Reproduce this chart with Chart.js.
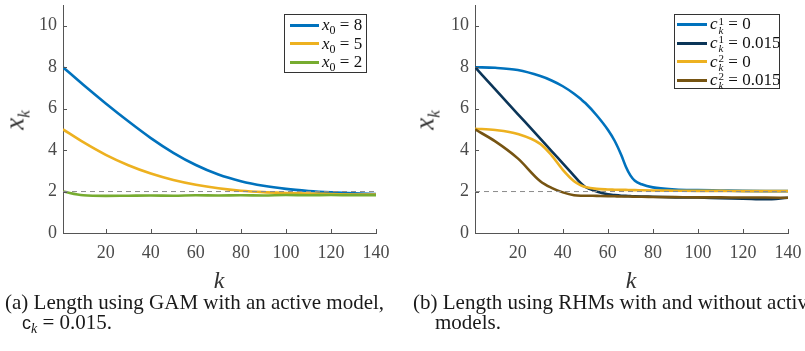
<!DOCTYPE html>
<html>
<head>
<meta charset="utf-8">
<script src="https://cdn.jsdelivr.net/npm/chart.js@4.4.0/dist/chart.umd.min.js"></script>
<style>
  body { margin: 0; width: 805px; height: 351px; overflow: hidden; position: relative; background: #fff; color: #1a1a1a; }
  .serif { font-family: 'Liberation Serif'; }
  .panel { position: absolute; top: 0; height: 290px; }
  .panel canvas { position: absolute; left: 0; top: 0; }
  .ytitle { position: absolute; font-size: 27px; transform: translate(-50%, -50%) rotate(-90deg); white-space: nowrap; color: #333; }
  .xtitle { position: absolute; font-size: 24px; transform: translate(-50%, -50%); font-style: italic; color: #333; }
  .legend { position: absolute; border: 1px solid #333; background: #fff; box-sizing: border-box; font-size: 17px; color: #111; }
  .legend .row { position: absolute; height: 18px; display: flex; align-items: center; white-space: nowrap; }
  .legend .sw { display: inline-block; height: 3px; margin-right: 3px; }
  .m { font-style: italic; }
  .sub { font-size: 12px; position: relative; top: 4px; }
  .ytitle .sub { font-size: 17px; top: 6px; }
  .ss { display: inline-flex; flex-direction: column; font-size: 11px; line-height: 9px; vertical-align: middle; margin-left: 1px; }
  .cap { position: absolute; font-size: 21px; white-space: nowrap; }
</style>
</head>
<body>
<div class="panel" style="left:0;width:400px">
  <canvas id="chartA" width="400" height="290"></canvas>
  <div class="ytitle serif" style="left:15px;top:120px"><span class="m">x</span><span class="sub m">k</span></div>
  <div class="xtitle serif" style="left:219px;top:280px">k</div>
  <div class="legend serif" id="legendA" style="left:284px;top:14px;width:83px;height:59px"></div>
</div>
<div class="panel" style="left:400px;width:405px">
  <canvas id="chartB" width="405" height="290"></canvas>
  <div class="ytitle serif" style="left:25px;top:120px"><span class="m">x</span><span class="sub m">k</span></div>
  <div class="xtitle serif" style="left:231px;top:280px">k</div>
  <div class="legend serif" id="legendB" style="left:274px;top:14px;width:106px;height:75px"></div>
</div>
<div class="cap serif" style="left:5px;top:290px">(a) Length using GAM with an active model,</div>
<div class="cap serif" style="left:22px;top:310px"><span style="font-family:'Liberation Sans';font-size:18px">c</span><span class="sub m" style="font-size:14px">k</span> = 0.015.</div>
<div class="cap serif" style="left:413px;top:290px">(b) Length using RHMs with and without active</div>
<div class="cap serif" style="left:435px;top:310px">models.</div>

<script>
// ---- data ----
const kA = [1, 10, 20, 30, 40, 50, 60, 70, 80, 90, 100, 110, 120, 130, 140];
const x0_8 = [8, 7.15, 6.25, 5.39, 4.58, 3.87, 3.28, 2.82, 2.5, 2.28, 2.13, 2.03, 1.96, 1.91, 1.88];
const x0_5 = [5, 4.38, 3.77, 3.27, 2.87, 2.56, 2.33, 2.16, 2.04, 1.97, 1.93, 1.9, 1.88, 1.86, 1.85];
const x0_2 = [2, 1.82, 1.79, 1.8, 1.81, 1.8, 1.82, 1.81, 1.82, 1.81, 1.83, 1.82, 1.83, 1.82, 1.82];

const kB = [1, 10, 20, 30, 35, 40, 45, 48, 50, 55, 60, 63, 66, 68, 70, 72, 75, 80, 90, 100, 110, 120, 130, 140];
const c1_0   = [8, 7.97, 7.86, 7.57, 7.36, 7.08, 6.72, 6.46, 6.27, 5.68, 4.98, 4.45, 3.75, 3.2, 2.78, 2.52, 2.35, 2.2, 2.1, 2.07, 2.05, 2.03, 2.02, 2.02];
const c1_015 = [8, 6.93, 5.74, 4.55, 3.95, 3.36, 2.76, 2.4, 2.22, 2.0, 1.87, 1.83, 1.8, 1.79, 1.78, 1.77, 1.76, 1.75, 1.72, 1.71, 1.68, 1.66, 1.63, 1.7];
const c2_0   = [5.03, 4.97, 4.78, 4.3, 3.75, 3.05, 2.5, 2.3, 2.22, 2.13, 2.1, 2.09, 2.08, 2.08, 2.07, 2.07, 2.06, 2.05, 2.04, 2.03, 2.03, 2.02, 2.02, 2.02];
const c2_015 = [5, 4.42, 3.6, 2.5, 2.18, 1.96, 1.82, 1.8, 1.8, 1.79, 1.78, 1.77, 1.76, 1.76, 1.76, 1.75, 1.75, 1.74, 1.73, 1.72, 1.72, 1.71, 1.71, 1.7];

const refK = [1, 140];
const refY = [2, 2];
const xTicks = [20, 40, 60, 80, 100, 120, 140];
const yTicks = [0, 2, 4, 6, 8, 10];

const legendA = ['<span class="m">x</span><span class="sub">0</span>&nbsp;= 8',
                 '<span class="m">x</span><span class="sub">0</span>&nbsp;= 5',
                 '<span class="m">x</span><span class="sub">0</span>&nbsp;= 2'];
const legendB = ['<span class="m">c</span><span class="ss"><span>1</span><span class="m">k</span></span>&nbsp;= 0',
                 '<span class="m">c</span><span class="ss"><span>1</span><span class="m">k</span></span>&nbsp;= 0.015',
                 '<span class="m">c</span><span class="ss"><span>2</span><span class="m">k</span></span>&nbsp;= 0',
                 '<span class="m">c</span><span class="ss"><span>2</span><span class="m">k</span></span>&nbsp;= 0.015'];

const AXIS = '#555';
const TICK_TXT = '#4a4a4a';
const FONT = "'Liberation Serif'";

const pts = (ks, ys) => ks.map((k, i) => ({ x: k, y: ys[i] }));

function series(ks, ys, color, order) {
  return { data: pts(ks, ys), borderColor: color, borderWidth: 2.6, pointRadius: 0,
           cubicInterpolationMode: 'monotone', fill: false, order };
}
function refLine() {
  return { data: pts(refK, refY), borderColor: '#8c8c8c', borderWidth: 1, borderDash: [5, 4],
           pointRadius: 0, fill: false, order: 0 };
}

// MATLAB style ticks pointing into the axes
const innerTicks = {
  id: 'innerTicks',
  afterDraw(chart) {
    const { ctx, chartArea: a, scales: { x, y } } = chart;
    ctx.save();
    ctx.strokeStyle = AXIS;
    ctx.lineWidth = 1;
    ctx.beginPath();
    xTicks.forEach(v => { const p = Math.round(x.getPixelForValue(v)) + 0.5; ctx.moveTo(p, a.bottom); ctx.lineTo(p, a.bottom - 4); });
    yTicks.forEach(v => { const p = Math.round(y.getPixelForValue(v)) + 0.5; ctx.moveTo(a.left, p); ctx.lineTo(a.left + 4, p); });
    ctx.stroke();
    ctx.restore();
  }
};

function makeChart(id, datasets, plotLeft, padRight) {
  const tickFont = { family: FONT, size: 18 };
  return new Chart(document.getElementById(id), {
    type: 'line',
    data: { datasets },
    options: {
      responsive: false, animation: false, events: [],
      layout: { padding: { top: 5, right: padRight, left: 0, bottom: 0 } },
      plugins: { legend: { display: false }, tooltip: { enabled: false } },
      scales: {
        x: {
          type: 'linear', min: 1, max: 140,
          afterBuildTicks: s => { s.ticks = xTicks.map(v => ({ value: v })); },
          afterFit: s => { s.height = 57; s.paddingLeft = 0; s.paddingRight = 0; },
          grid: { display: true, drawOnChartArea: false, drawTicks: false },
          border: { display: true, color: AXIS, width: 1 },
          ticks: { font: tickFont, color: TICK_TXT, padding: 9, maxRotation: 0, autoSkip: false }
        },
        y: {
          min: 0, max: 11,
          afterBuildTicks: s => { s.ticks = yTicks.map(v => ({ value: v })); },
          afterFit: s => { s.width = plotLeft; s.paddingTop = 0; s.paddingBottom = 0; },
          grid: { display: true, drawOnChartArea: false, drawTicks: false },
          border: { display: true, color: AXIS, width: 1 },
          ticks: { font: tickFont, color: TICK_TXT, padding: 6 }
        }
      }
    },
    plugins: [innerTicks]
  });
}

function buildLegend(id, labels, datasets, top0, step, swLeft, swWidth) {
  const box = document.getElementById(id);
  labels.forEach((html, i) => {
    const row = document.createElement('div');
    row.className = 'row';
    row.style.left = swLeft + 'px';
    row.style.top = (top0 + i * step - 9) + 'px';
    row.innerHTML = `<span class="sw" style="width:${swWidth}px;background:${datasets[i].borderColor}"></span><span>${html}</span>`;
    box.appendChild(row);
  });
}

Chart.defaults.font.family = FONT;

const dsA = [
  series(kA, x0_8, '#0072BD', 3),
  series(kA, x0_5, '#EDB120', 2),
  series(kA, x0_2, '#77AC30', 1),
  refLine()
];
const dsB = [
  series(kB, c1_0, '#0072BD', 4),
  series(kB, c1_015, '#0B3558', 3),
  series(kB, c2_0, '#EDB120', 2),
  series(kB, c2_015, '#765412', 1),
  refLine()
];

makeChart('chartA', dsA, 63, 24);
makeChart('chartB', dsB, 75, 17);
buildLegend('legendA', legendA, dsA, 10, 18.5, 5, 29);
buildLegend('legendB', legendB, dsB, 9.5, 18.6, 2, 30);
</script>
</body>
</html>
